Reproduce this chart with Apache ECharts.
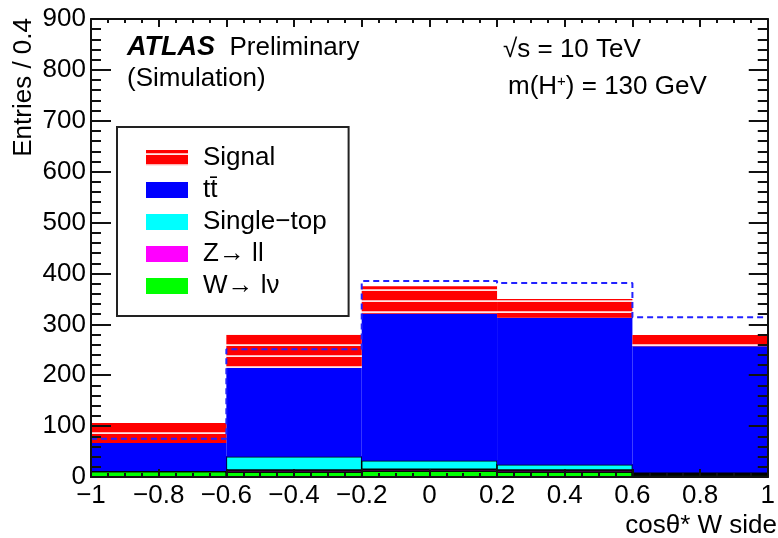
<!DOCTYPE html>
<html>
<head>
<meta charset="utf-8">
<script src="https://cdn.jsdelivr.net/npm/echarts@6/dist/echarts.min.js"></script>
<style>
  html, body { margin: 0; padding: 0; background: #fff; }
  #chart { width: 778px; height: 538px; }
</style>
</head>
<body>
<div id="chart"></div>
<script>
// bin edges along cosθ* (W side)
const binEdges = [-1, -0.6, -0.2, 0.2, 0.6, 1]

// stacked components, bottom to top (entries per bin)
const wlnu = [11, 10, 12, 10, 4]
const zll = [0.5, 4, 3, 4, 3]
const singleTop = [0.5, 26, 17, 10, 2]
const ttbar = [55, 174, 289, 289, 248]
const signal = [39, 66, 54, 37, 22]

// dashed blue histogram
const dashed = [75, 251, 385, 381, 314]

const FONT = 'Liberation Sans, Arial, sans-serif'

// red fill with thin light horizontal hatch lines
function hatchPattern() {
  const c = document.createElement('canvas')
  c.width = 4
  c.height = 11
  const ctx = c.getContext('2d')
  ctx.fillStyle = '#ff0000'
  ctx.fillRect(0, 0, 4, 11)
  ctx.fillStyle = '#ffb0b0'
  ctx.fillRect(0, 3, 4, 1)
  ctx.fillStyle = '#ffe4e4'
  ctx.fillRect(0, 4, 4, 1)
  return c
}

function stackRows(layers) {
  const out = []
  const base = binEdges.slice(1).map(() => 0)
  layers.forEach(vals => {
    out.push(vals.map((v, i) => {
      const row = [binEdges[i], binEdges[i + 1], base[i], base[i] + v]
      base[i] += v
      return row
    }))
  })
  return out
}

const [wRows, zRows, stRows, ttRows, sigRows] = stackRows([wlnu, zll, singleTop, ttbar, signal])

function binRenderer(outline) {
  return function (params, api) {
    const p0 = api.coord([api.value(0), api.value(3)])
    const p1 = api.coord([api.value(1), api.value(2)])
    return {
      type: 'rect',
      shape: { x: p0[0], y: p0[1], width: p1[0] - p0[0], height: p1[1] - p0[1] },
      style: {
        fill: api.visual('color'),
        stroke: outline ? '#000' : null,
        lineWidth: outline ? 1.5 : 0
      }
    }
  }
}

function histSeries(name, rows, color, outline) {
  return {
    name,
    type: 'custom',
    renderItem: binRenderer(outline),
    encode: { x: [0, 1], y: [2, 3] },
    itemStyle: { color },
    data: rows,
    silent: true
  }
}

const dashedPoints = binEdges.map((x, i) => [x, dashed[Math.min(i, dashed.length - 1)]])

const axisLabel = { color: '#000', fontSize: 26, fontFamily: FONT }
const frameLine = { onZero: false, lineStyle: { color: '#111', width: 2 } }

const chart = echarts.init(document.getElementById('chart'))
chart.setOption({
  animation: false,
  backgroundColor: '#fff',
  grid: { left: 91, right: 5, top: 19, bottom: 61 },
  xAxis: [
    {
      type: 'value', min: -1, max: 1, interval: 0.2, z: 10,
      axisLine: frameLine,
      axisTick: { inside: true, length: 8, lineStyle: { color: '#111', width: 2 } },
      minorTick: { show: true, splitNumber: 4, length: 4, lineStyle: { color: '#111', width: 2 } },
      splitLine: { show: false },
      axisLabel: {
        ...axisLabel, margin: 6, showMinLabel: true, showMaxLabel: true,
        formatter: v => String(Math.round(v * 10) / 10).replace('-', '\u2212')
      }
    },
    {
      type: 'value', position: 'top', min: -1, max: 1, interval: 0.2, z: 10,
      axisLine: frameLine,
      axisTick: { inside: true, length: 8, lineStyle: { color: '#111', width: 2 } },
      minorTick: { show: true, splitNumber: 4, length: 4, lineStyle: { color: '#111', width: 2 } },
      splitLine: { show: false },
      axisLabel: { show: false }
    }
  ],
  yAxis: [
    {
      type: 'value', min: 0, max: 900, interval: 100, z: 10,
      axisLine: { show: true, ...frameLine },
      axisTick: { show: true, inside: true, length: 20, lineStyle: { color: '#111', width: 2 } },
      minorTick: { show: true, splitNumber: 5, length: 10, lineStyle: { color: '#111', width: 2 } },
      splitLine: { show: false },
      axisLabel: { ...axisLabel, margin: 5 }
    },
    {
      type: 'value', position: 'right', min: 0, max: 900, interval: 100, z: 10,
      axisLine: { show: true, ...frameLine },
      axisTick: { show: true, inside: true, length: 19, lineStyle: { color: '#111', width: 2 } },
      minorTick: { show: true, splitNumber: 5, length: 10, lineStyle: { color: '#111', width: 2 } },
      splitLine: { show: false },
      axisLabel: { show: false }
    }
  ],
  legend: {
    orient: 'vertical',
    left: 117,
    top: 127,
    padding: [18, 22, 17, 29],
    itemGap: 6,
    itemWidth: 42,
    itemHeight: 16,
    icon: 'rect',
    borderColor: '#222',
    borderWidth: 2,
    selectedMode: false,
    itemStyle: { borderWidth: 0 },
    textStyle: { color: '#000', fontSize: 26, fontFamily: FONT, padding: [0, 0, 0, 10] },
    data: ['Signal', 'tt\u0304', 'Single\u2212top', 'Z\u2192 ll', 'W\u2192 l\u03bd']
  },
  graphic: [
    {
      type: 'text', x: 127, y: 48,
      style: {
        text: '{b|ATLAS}  Preliminary', fill: '#000', font: '26px ' + FONT, verticalAlign: 'middle',
        rich: { b: { fontSize: 27, fontFamily: FONT, fontWeight: 'bold', fontStyle: 'italic' } }
      }
    },
    { type: 'text', x: 127, y: 79, style: { text: '(Simulation)', fill: '#000', font: '26px ' + FONT, verticalAlign: 'middle' } },
    { type: 'text', x: 503, y: 50, style: { text: '\u221as = 10 TeV', fill: '#000', font: '26px ' + FONT, verticalAlign: 'middle' } },
    {
      type: 'text', x: 508, y: 87,
      style: {
        text: 'm(H{s|+}) = 130 GeV', fill: '#000', font: '26px ' + FONT, verticalAlign: 'middle',
        rich: { s: { fontSize: 15, fontFamily: FONT, verticalAlign: 'top', lineHeight: 15 } }
      }
    },
    { type: 'text', x: 777, y: 526, style: { text: 'cos\u03b8* W side', fill: '#000', font: '26px ' + FONT, align: 'right', verticalAlign: 'middle' } },
    {
      type: 'text', x: 24, y: 18, rotation: Math.PI / 2,
      style: { text: 'Entries / 0.4', fill: '#000', font: '26px ' + FONT, align: 'right', verticalAlign: 'middle' }
    }
  ],
  series: [
    histSeries('W\u2192 l\u03bd', wRows, '#00ff00', true),
    histSeries('Z\u2192 ll', zRows, '#ff00ff', true),
    histSeries('Single\u2212top', stRows, '#00ffff', true),
    histSeries('tt\u0304', ttRows, '#0000ff', false),
    histSeries('Signal', sigRows, { image: hatchPattern(), repeat: 'repeat' }, false),
    {
      name: 'dashed',
      type: 'line',
      step: 'end',
      symbol: 'none',
      z: 5,
      silent: true,
      lineStyle: { color: '#2222ff', width: 2, type: [6, 4] },
      data: dashedPoints
    }
  ]
})
</script>
</body>
</html>
